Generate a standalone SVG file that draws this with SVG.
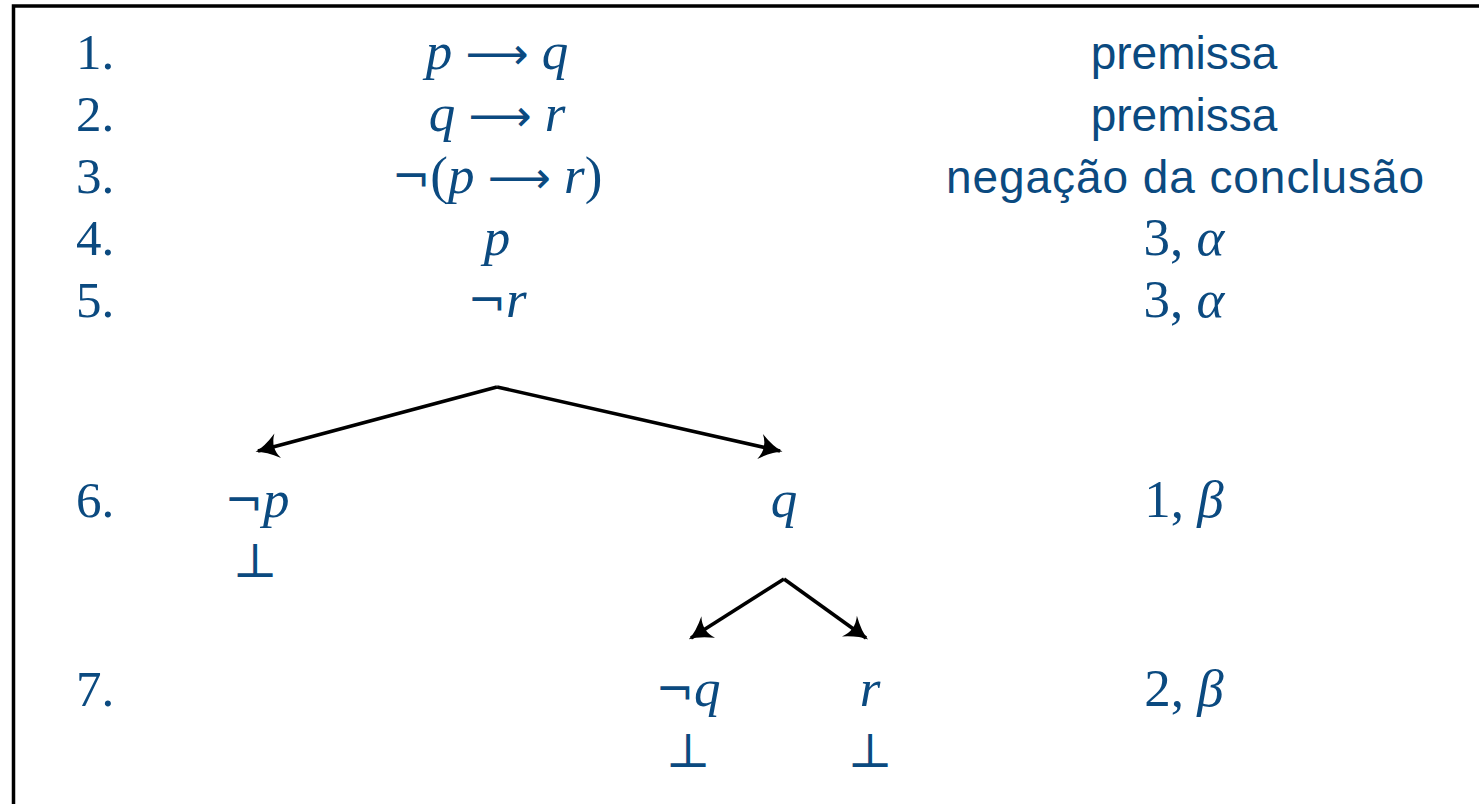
<svg xmlns="http://www.w3.org/2000/svg" width="1479" height="804" viewBox="0 0 1479 804">
<style>
text{fill:#0b4a80}
.num{font-family:"Liberation Serif","DejaVu Serif",serif;font-size:51px}
.m{font-family:"Liberation Serif","DejaVu Serif",serif;font-size:53px;text-anchor:middle}
.i{font-style:italic}
.sym{font-family:"DejaVu Serif",serif;font-style:normal;font-size:46px}
.arr{font-family:"DejaVu Sans",sans-serif;font-style:normal;font-size:44px}
.bot{font-family:"DejaVu Serif",serif;font-size:48px;text-anchor:middle}
.sans{font-family:"Liberation Sans","DejaVu Sans",sans-serif;font-size:46px;text-anchor:middle}
.edge{stroke:#000;stroke-width:3.6;fill:none;marker-end:url(#ah)}
</style>
<defs>
<marker id="ah" viewBox="-10 -6 12 12" refX="0" refY="0" markerWidth="8.5" markerHeight="8.5" markerUnits="strokeWidth" orient="auto">
<path d="M-8,-5 Q-3,-1 1,0 Q-3,1 -8,5 Q-5,0 -8,-5 Z" fill="#000"/>
</marker>
</defs>
<rect x="13.5" y="6" width="1500" height="850" fill="#fff" stroke="#000" stroke-width="3.5"/>
<g id="row1">
<text class="num" x="76" y="69">1.</text>
<text class="m" x="497" y="69"><tspan class="i">p</tspan> <tspan class="arr">⟶</tspan> <tspan class="i">q</tspan></text>
<text class="sans" x="1184" y="69">premissa</text>
</g>
<g id="row2">
<text class="num" x="76" y="131">2.</text>
<text class="m" x="497" y="131"><tspan class="i">q</tspan> <tspan class="arr">⟶</tspan> <tspan class="i">r</tspan></text>
<text class="sans" x="1184" y="131">premissa</text>
</g>
<g id="row3">
<text class="num" x="76" y="193">3.</text>
<text class="m" x="497" y="193"><tspan class="sym">¬</tspan>(<tspan class="i">p</tspan> <tspan class="arr">⟶</tspan> <tspan class="i">r</tspan>)</text>
<text class="sans" x="1185" y="193" textLength="478" lengthAdjust="spacing">negação da conclusão</text>
</g>
<g id="row4">
<text class="num" x="76" y="255">4.</text>
<text class="m i" x="497" y="255">p</text>
<text class="m" x="1184" y="255">3, <tspan class="i">α</tspan></text>
</g>
<g id="row5">
<text class="num" x="76" y="317">5.</text>
<text class="m" x="497" y="317"><tspan class="sym">¬</tspan><tspan class="i">r</tspan></text>
<text class="m" x="1184" y="317">3, <tspan class="i">α</tspan></text>
</g>
<g id="row6">
<text class="num" x="76" y="517">6.</text>
<text class="m" x="1184" y="517">1, <tspan class="i">β</tspan></text>
</g>
<g id="node-notp">
<text class="m" x="257" y="517"><tspan class="sym">¬</tspan><tspan class="i">p</tspan></text>
<text class="bot" x="255" y="577">⊥</text>
</g>
<g id="node-q">
<text class="m i" x="784" y="517">q</text>
</g>
<g id="row7">
<text class="num" x="76" y="706">7.</text>
<text class="m" x="1184" y="706">2, <tspan class="i">β</tspan></text>
</g>
<g id="node-notq">
<text class="m" x="688" y="706"><tspan class="sym">¬</tspan><tspan class="i">q</tspan></text>
<text class="bot" x="688" y="767">⊥</text>
</g>
<g id="node-r">
<text class="m i" x="870" y="706">r</text>
<text class="bot" x="870" y="767">⊥</text>
</g>
<g id="connectors">
<path class="edge" d="M497,387 L258,451"/>
<path class="edge" d="M497,387 L780,451"/>
<path class="edge" d="M784,579 L691,638"/>
<path class="edge" d="M784,579 L866,638"/>
</g>
</svg>
